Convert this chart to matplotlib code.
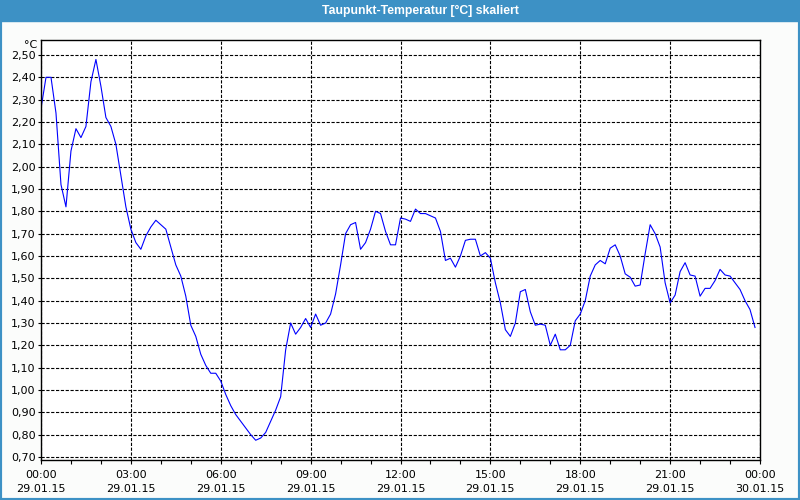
import matplotlib
matplotlib.use("Agg")
import matplotlib.pyplot as plt
import matplotlib.dates as mdates
from matplotlib.patches import Rectangle
import pandas as pd

title = "Taupunkt-Temperatur [°C] skaliert"
unit = "°C"
start = "2015-01-29 00:00"
end = "2015-01-30 00:00"
step = "10min"

# Taupunkt alle 10 Minuten, 00:00 .. 23:50
values = [
    2.26, 2.40, 2.40, 2.24, 1.92, 1.82, 2.07, 2.17, 2.13, 2.18,
    2.38, 2.48, 2.36, 2.22, 2.18, 2.10, 1.96, 1.82, 1.72, 1.66,
    1.63, 1.69, 1.73, 1.76, 1.74, 1.72, 1.64, 1.56, 1.51, 1.42,
    1.29, 1.24, 1.16, 1.11, 1.075, 1.075, 1.04, 0.98, 0.93, 0.89,
    0.86, 0.83, 0.80, 0.775, 0.785, 0.81, 0.86, 0.91, 0.97, 1.18,
    1.30, 1.25, 1.28, 1.32, 1.28, 1.34, 1.29, 1.30, 1.34, 1.43,
    1.56, 1.70, 1.74, 1.75, 1.63, 1.66, 1.72, 1.80, 1.79, 1.71,
    1.65, 1.65, 1.77, 1.765, 1.755, 1.81, 1.79, 1.79, 1.78, 1.77,
    1.71, 1.58, 1.59, 1.55, 1.60, 1.67, 1.675, 1.675, 1.60, 1.615,
    1.59, 1.48, 1.39, 1.27, 1.24, 1.30, 1.44, 1.45, 1.35, 1.29,
    1.295, 1.29, 1.20, 1.25, 1.18, 1.18, 1.20, 1.31, 1.34, 1.40,
    1.51, 1.56, 1.58, 1.565, 1.635, 1.65, 1.60, 1.52, 1.505, 1.465,
    1.47, 1.61, 1.74, 1.70, 1.64, 1.48, 1.39, 1.425, 1.53, 1.57,
    1.515, 1.51, 1.42, 1.455, 1.455, 1.49, 1.54, 1.515, 1.51, 1.48,
    1.45, 1.40, 1.36, 1.28,
]

y_ticks = [0.70, 0.80, 0.90, 1.00, 1.10, 1.20, 1.30, 1.40, 1.50,
           1.60, 1.70, 1.80, 1.90, 2.00, 2.10, 2.20, 2.30, 2.40, 2.50]

BAR = "#3d91c5"

times = pd.date_range(start, periods=len(values), freq=step)

fig = plt.figure(figsize=(8, 5), dpi=100, facecolor="#fbfcfb")
ax = fig.add_axes([41 / 800, 0.08, 719 / 800, 0.84])

ax.plot(times, values, color="#0000ff", linewidth=0.8)

ax.set_xlim(pd.Timestamp(start), pd.Timestamp(end))
ax.set_ylim(0.6866, 2.567)
ax.set_yticks(y_ticks)
ax.set_yticklabels([f"{v:.2f}".replace(".", ",") for v in y_ticks])

ax.xaxis.set_major_locator(mdates.HourLocator(byhour=range(0, 24, 3)))
ax.xaxis.set_minor_locator(mdates.HourLocator())
ax.xaxis.set_major_formatter(mdates.DateFormatter("%H:%M\n%d.%m.%y"))

ax.grid(True, which="major", color="black", linewidth=0.8,
        linestyle=(0, (2.9, 1.45)))
ax.tick_params(axis="x", which="both", direction="out", length=3,
               width=0.8, pad=4.5, labelsize=8, colors="black")
ax.tick_params(axis="y", length=2, width=0.8, pad=2, labelsize=8)
for lab in ax.get_xticklabels():
    lab.set_linespacing(1.45)

for s in ax.spines.values():
    s.set_color("black")
    s.set_linewidth(1)

fig.text(31 / 800, 1 - 45 / 500, unit, ha="center", va="center", fontsize=8)

# Titelleiste und Rahmen
fig.patches.append(Rectangle((0, 1 - 21 / 500), 1, 21 / 500,
                             transform=fig.transFigure, color=BAR, zorder=0))
fig.patches.append(Rectangle((0, 0), 1, 1, transform=fig.transFigure,
                             fill=False, edgecolor=BAR, linewidth=3))
fig.text(420 / 800, 1 - 11 / 500, title, ha="center", va="center",
         color="white", fontsize=8.8, fontweight="bold",
         family="Liberation Sans")

fig.savefig("out.png", dpi=100, facecolor=fig.get_facecolor())
